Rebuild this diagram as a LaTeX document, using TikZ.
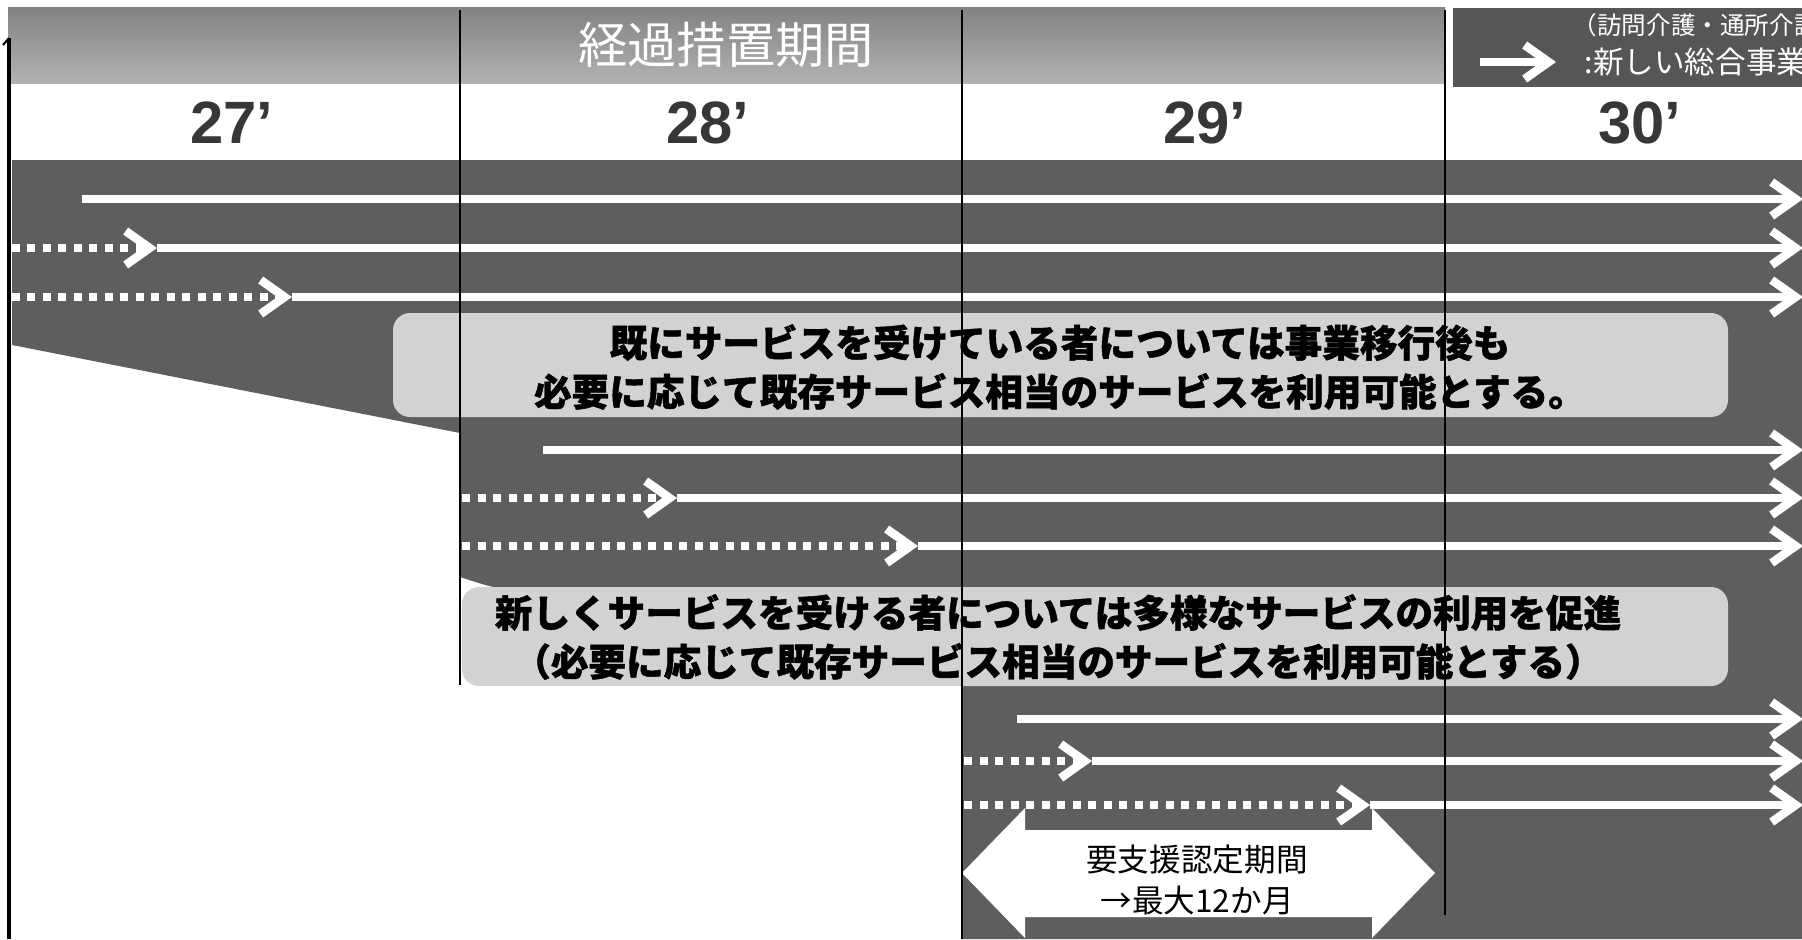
\documentclass[tikz,border=0pt]{standalone}
\usepackage{fontspec}
\newfontfamily\jp{Noto Sans CJK JP}
\newfontfamily\jph{Noto Sans CJK JP}[BoldFeatures={FakeBold=1.2}]
\newfontfamily\arl{Liberation Sans}
\usetikzlibrary{arrows.meta}
\definecolor{bandgray}{RGB}{94,94,94}
\definecolor{hdtop}{RGB}{130,130,130}
\definecolor{hdbot}{RGB}{178,178,178}
\definecolor{legendgray}{RGB}{86,86,86}
\definecolor{boxgray}{RGB}{210,210,210}
\definecolor{yeargray}{RGB}{55,55,55}
\begin{document}
\begin{tikzpicture}[x=0.1mm,y=-0.1mm,
  flow/.style={white, line width=0.85mm, -{Straight Barb[length=2.4mm,width=3.4mm]}},
  dots/.style={white, line width=0.85mm, dash pattern=on 0.8mm off 0.75mm, -{Straight Barb[length=2.4mm,width=3.4mm]}},
  year/.style={font=\arl\bfseries\fontsize{17}{20}\selectfont, text=yeargray},
  msg/.style={font=\jph\bfseries\fontsize{10.7}{13.9}\selectfont, text=black, align=center, inner sep=0pt},
  divider/.style={black, line width=0.5pt},
  infobox/.style={fill=boxgray, rounded corners=1.7mm, inner sep=0pt}
]
\useasboundingbox (0,0) rectangle (1802,939);
\clip (0,0) rectangle (1802,939);
\fill[white] (0,0) rectangle (1802,939);

% header band
\shade[top color=hdtop, bottom color=hdbot] (8,7) rectangle (1445,83);
\node[font=\jp\fontsize{14}{16}\selectfont, text=white] (title) at (726,45) {経過措置期間};

% legend
\fill[legendgray] (1453,8) rectangle (1802,87);
\node[anchor=west, font=\jp\fontsize{7}{8}\selectfont, text=white, inner sep=0pt] (leg1) at (1572,25) {（訪問介護・通所介護};
\node[anchor=west, font=\jp\fontsize{8.7}{10}\selectfont, text=white, inner sep=0pt] (leg2) at (1584,62) {:新しい総合事業};
\coordinate (la1) at (1480,62);
\coordinate (la2) at (1556,62);
\draw[flow] (la1) -- (la2);

% years
\node[year] (y27) at (232,123) {27’};
\node[year] (y28) at (708,123) {28’};
\node[year] (y29) at (1205,123) {29’};
\node[year] (y30) at (1640,123) {30’};

% dark band
\fill[bandgray] (12,160) -- (1802,160) -- (1802,939) -- (962,939) -- (962,592)
  -- (520,592) .. controls (490,588) and (470,580) .. (460,577)
  -- (460,433) -- (12,345) -- cycle;

% rows, 27
\coordinate (r1a) at (82,199);   \coordinate (r1e) at (1803,199);
\coordinate (r2a) at (12,248);   \coordinate (r2m) at (157,248);  \coordinate (r2e) at (1803,248);
\coordinate (r3a) at (12,297);   \coordinate (r3m) at (292,297);  \coordinate (r3e) at (1803,297);
\draw[flow] (r1a) -- (r1e);
\draw[dots] (r2a) -- (r2m);
\draw[flow] (r2m) -- (r2e);
\draw[dots] (r3a) -- (r3m);
\draw[flow] (r3m) -- (r3e);

% rows, 28
\coordinate (r4a) at (543,450);  \coordinate (r4e) at (1803,450);
\coordinate (r5a) at (462,498);  \coordinate (r5m) at (677,498);  \coordinate (r5e) at (1803,498);
\coordinate (r6a) at (462,546);  \coordinate (r6m) at (918,546);  \coordinate (r6e) at (1803,546);
\draw[flow] (r4a) -- (r4e);
\draw[dots] (r5a) -- (r5m);
\draw[flow] (r5m) -- (r5e);
\draw[dots] (r6a) -- (r6m);
\draw[flow] (r6m) -- (r6e);

% message boxes
\node[infobox, minimum width=133.5mm, minimum height=10.4mm] (box1) at (1060.5,365) {};
\node[msg] (msg1) at (1060,367) {既にサービスを受けている者については事業移行後も\\必要に応じて既存サービス相当のサービスを利用可能とする。};
\node[infobox, minimum width=126.6mm, minimum height=9.9mm] (box2) at (1095,636.5) {};
\node[msg] (msg2) at (1058,637) {新しくサービスを受ける者については多様なサービスの利用を促進\\（必要に応じて既存サービス相当のサービスを利用可能とする）};

% double arrow (support certification period)
\fill[white] (962,873) -- (1025,808) -- (1025,830) -- (1372,830) -- (1372,808) -- (1435,873)
  -- (1372,938) -- (1372,917) -- (1025,917) -- (1025,938) -- cycle;
\node[font=\jp\fontsize{9}{11}\selectfont, text=black] (per1) at (1197,860) {要支援認定期間};
\node[font=\jp\fontsize{9}{11}\selectfont, text=black] (per2) at (1197,900) {→最大12か月};

% rows, 29
\coordinate (r7a) at (1017,719); \coordinate (r7e) at (1803,719);
\coordinate (r8a) at (964,761);  \coordinate (r8m) at (1092,761); \coordinate (r8e) at (1803,761);
\coordinate (r9a) at (964,805);  \coordinate (r9m) at (1370,805); \coordinate (r9e) at (1803,805);
\draw[flow] (r7a) -- (r7e);
\draw[dots] (r8a) -- (r8m);
\draw[flow] (r8m) -- (r8e);
\draw[dots] (r9a) -- (r9m);
\draw[flow] (r9m) -- (r9e);

% dividers
\draw[divider] (460,10) -- (460,685);
\draw[divider] (962,10) -- (962,939);
\draw[divider] (1445,10) -- (1445,915);

% left rule
\draw[black, line width=1.3pt] (9,38) -- (9,939);
\draw[black, line width=0.6pt] (9,38) -- (3,45);
\end{tikzpicture}
\end{document}
